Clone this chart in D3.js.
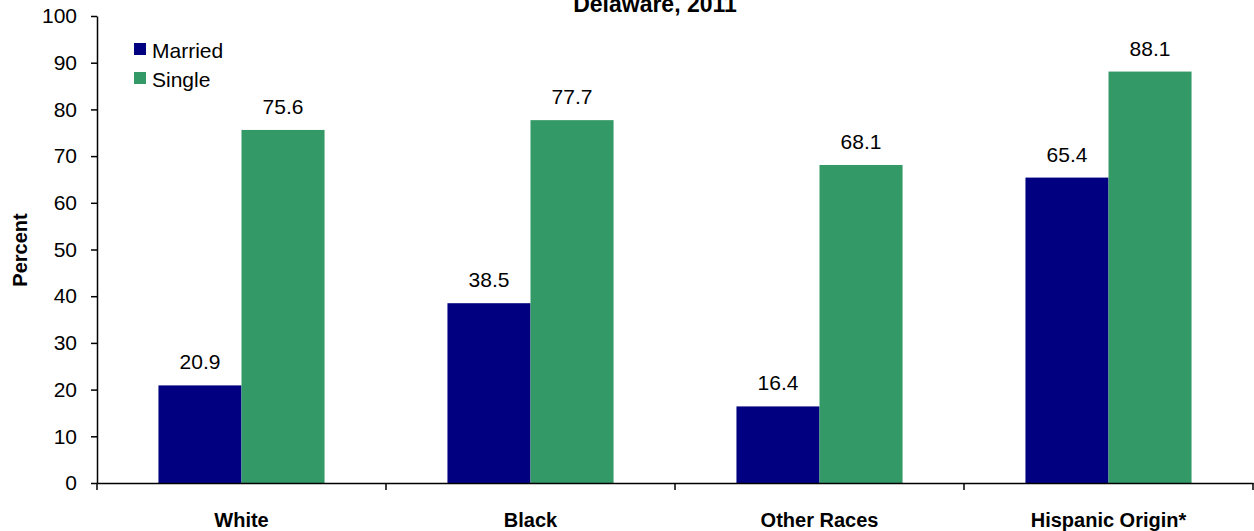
<!DOCTYPE html>
<html>
<head>
<meta charset="utf-8">
<script src="https://cdn.jsdelivr.net/npm/d3@7"></script>
<style>
  html, body { margin: 0; padding: 0; background: #fff; }
  svg { display: block; font-family: Arial, "Liberation Sans", sans-serif; }
</style>
</head>
<body>
<svg id="chart" width="1254" height="531"></svg>
<script>
const categories = ["White", "Black", "Other Races", "Hispanic Origin*"];
const seriesNames = ["Married", "Single"];
const married = [20.9, 38.5, 16.4, 65.4];
const single = [75.6, 77.7, 68.1, 88.1];
const yTicks = [0, 10, 20, 30, 40, 50, 60, 70, 80, 90, 100];
const colors = ["#000080", "#339966"];
const titleText = "Delaware, 2011";
const yLabel = "Percent";

const values = [married, single];
const svg = d3.select("#chart");

const plotLeft = 97, plotRight = 1253, plotTop = 16, plotBottom = 483;

const y = d3.scaleLinear().domain([0, 100]).range([plotBottom, plotTop]);
const x0 = d3.scaleBand().domain(categories).range([plotLeft, plotRight]).paddingInner(0).paddingOuter(0);
const x1 = d3.scaleBand().domain(seriesNames).range([0, x0.bandwidth()]).paddingInner(0).paddingOuter(0.74);

// bars
categories.forEach((c, ci) => {
  seriesNames.forEach((s, si) => {
    const v = values[si][ci];
    svg.append("rect")
      .attr("x", x0(c) + x1(s))
      .attr("y", y(v))
      .attr("width", x1.bandwidth())
      .attr("height", y(0) - y(v))
      .attr("fill", colors[si]);
    svg.append("text")
      .attr("x", x0(c) + x1(s) + x1.bandwidth() / 2)
      .attr("y", y(v) - 16)
      .attr("text-anchor", "middle")
      .attr("font-size", 21)
      .attr("fill", "#000")
      .text(v.toFixed(1));
  });
});

// y axis
const yAxis = d3.axisLeft(y).tickValues(yTicks).tickSize(6).tickPadding(14).tickSizeOuter(0);
const gy = svg.append("g").attr("transform", `translate(${plotLeft},0)`).call(yAxis);
gy.select(".domain").attr("stroke", "#000").attr("stroke-width", 1.5);
gy.selectAll(".tick line").attr("stroke", "#000").attr("stroke-width", 1.5);
gy.selectAll(".tick text").attr("font-size", 21).attr("fill", "#000").attr("font-family", "Arial, 'Liberation Sans', sans-serif");

// x axis
const xAxis = d3.axisBottom(x0).tickSize(0).tickPadding(30).tickSizeOuter(0);
const gx = svg.append("g").attr("transform", `translate(0,${plotBottom})`).call(xAxis);
gx.select(".domain").attr("stroke", "#000").attr("stroke-width", 1.5);
gx.selectAll(".tick text").attr("font-size", 20).attr("font-weight", "bold").attr("fill", "#000")
  .attr("font-family", "Arial, 'Liberation Sans', sans-serif");
// boundary ticks
const bounds = categories.map(c => x0(c)).concat([x0(categories[categories.length - 1]) + x0.bandwidth()]);
gx.selectAll(".bound").data(bounds).enter().append("line")
  .attr("x1", d => d).attr("x2", d => d).attr("y1", 0).attr("y2", 7)
  .attr("stroke", "#000").attr("stroke-width", 1.5);

// y label
svg.append("text")
  .attr("transform", "translate(27,250) rotate(-90)")
  .attr("text-anchor", "middle")
  .attr("font-size", 20)
  .attr("font-weight", "bold")
  .attr("fill", "#000")
  .text(yLabel);

// title
svg.append("text")
  .attr("x", 655).attr("y", 12)
  .attr("text-anchor", "middle")
  .attr("font-size", 23)
  .attr("font-weight", "bold")
  .attr("fill", "#000")
  .text(titleText);

// legend
seriesNames.forEach((s, i) => {
  const g = svg.append("g").attr("transform", `translate(134,${43 + i * 29})`);
  g.append("rect").attr("width", 12).attr("height", 12).attr("fill", colors[i]);
  g.append("text").attr("x", 18).attr("y", 14.5).attr("font-size", 21).attr("fill", "#000").text(s);
});
</script>
</body>
</html>
